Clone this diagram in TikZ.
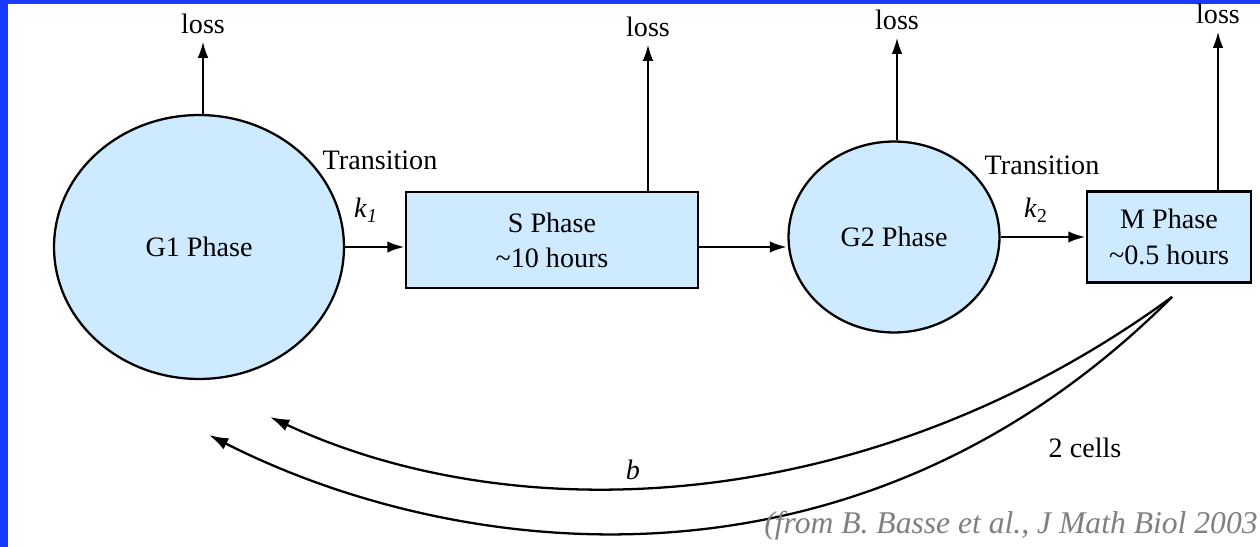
\documentclass[tikz,border=0pt]{standalone}
\usepackage{fontspec}
\setmainfont{Liberation Serif}
\usepackage{tikz}
\usetikzlibrary{arrows.meta,positioning}
\usetikzlibrary{shapes.geometric}
\definecolor{cellblue}{RGB}{205,234,255}
\definecolor{frameblue}{RGB}{26,58,255}
\definecolor{citegray}{RGB}{128,128,128}
\tikzset{
 >={Latex[length=9pt,width=6pt]},
 phase/.style={draw,line width=1.3pt,fill=cellblue,inner sep=0pt,align=center},
 roundphase/.style={phase,ellipse},
 boxphase/.style={phase,rectangle},
 flow/.style={->,line width=1.7pt,>={Latex[length=10pt,width=6.5pt]}},
 lossline/.style={->,line width=0.8pt},
 split/.style={->,line width=1.3pt,>={Latex[length=11pt,width=7pt]}}
}

\begin{document}
\begin{tikzpicture}[x=0.02cm,y=-0.02cm,font=\fontsize{16}{20}\selectfont]
\fill[frameblue] (0,0) rectangle (1260,547);
\fill[white] (8,4) rectangle (1260,547);
\useasboundingbox (0,0) rectangle (1260,547);

% phases
\path (199,247) node[name=G1,roundphase,minimum width=5.8cm,minimum height=5.28cm] {G1 Phase};
\path (552,240) node[name=S,boxphase,minimum width=5.84cm,minimum height=1.92cm] {S Phase\\\textasciitilde10 hours};
\path (894,237) node[name=G2,roundphase,minimum width=4.22cm,minimum height=3.82cm] {G2 Phase};
\path (1169,237) node[name=M,boxphase,minimum width=3.28cm,minimum height=1.82cm] {M Phase\\\textasciitilde0.5 hours};

\path[flow] (G1.east) edge (S.west |- G1.east);
\path[flow] (S.east |- G1.east) edge (G2.west |- G1.east);
\path[flow] (G2.east) edge (M.west |- G2.east);

\path (380,160) node[name=trans1] {Transition};
\path (366,210) node[name=k1] {\textit{k}\textsubscript{\textit{1}}};
\path (1042,165) node[name=trans2] {Transition};
\path (1036,210) node[name=k2] {\textit{k}\textsubscript{2}};

% loss
\coordinate (tipG1) at (203,42);
\coordinate (tipS) at (648,45);
\coordinate (tipG2) at (897,38);
\coordinate (tipM) at (1218,32);
\path[lossline] (G1.north -| tipG1) edge (tipG1);
\path[lossline] (S.north -| tipS) edge (tipS);
\path[lossline] (G2.north -| tipG2) edge (tipG2);
\path[lossline] (M.north -| tipM) edge (tipM);
\path node[name=lossG1,above=1pt of tipG1] {loss};
\path node[name=lossS,above=1pt of tipS] {loss};
\path node[name=lossG2,above=1pt of tipG2] {loss};
\path node[name=lossM,above=1pt of tipM] {loss};

% division
\coordinate (fork) at (1172,297);
\draw[split] (fork) .. controls (872,516) and (520,533) .. (270,417);
\draw[split] (fork) .. controls (852,617) and (449,557) .. (209,435);
\path (633,470) node[name=rateb] {\textit{b}};
\path (1085,448) node[name=cells] {2 cells};

\path (1258,533) node[name=cite,anchor=base east,inner sep=0pt,text=citegray,font=\fontsize{18}{20}\selectfont\itshape] {(from B. Basse et al., J Math Biol 2003};
\end{tikzpicture}
\end{document}
